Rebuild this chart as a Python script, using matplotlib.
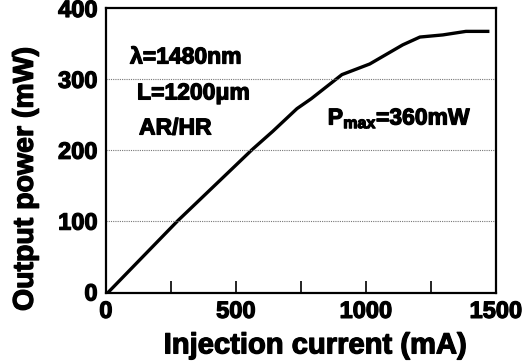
import matplotlib
matplotlib.use('Agg')
import matplotlib.pyplot as plt
import matplotlib.patheffects as pe
from matplotlib.ticker import MultipleLocator

plt.rcParams['font.family'] = ['Liberation Sans', 'DejaVu Sans']
plt.rcParams['font.weight'] = 'bold'
plt.rcParams['mathtext.fontset'] = 'custom'
plt.rcParams['mathtext.bf'] = 'Liberation Sans:bold'
plt.rcParams['mathtext.rm'] = 'Liberation Sans:bold'

# injection current (mA) vs output power (mW)
current = [12, 277, 488, 562, 642, 735, 790, 908, 1015, 1142, 1208, 1296, 1385, 1469]
power = [0, 100, 174, 200, 226, 258, 272, 306, 321, 348, 359, 362, 367, 367]

heavy = [pe.withStroke(linewidth=0.9, foreground='black')]

fig = plt.figure(figsize=(5.32, 3.63), dpi=100)
ax = fig.add_axes([0.199, 0.193, 0.733, 0.785])

ax.plot(current, power, color='black', lw=2.4, solid_joinstyle='round')

ax.set_xlim(0, 1500)
ax.set_ylim(-2, 397)
ax.set_xticks([0, 500, 1000, 1500])
ax.xaxis.set_minor_locator(MultipleLocator(250))
ax.set_yticks([0, 100, 200, 300, 400])
for y in [100, 200, 300]:
    ax.axhline(y, color='#777777', lw=0.8, ls=(0, (1, 1)))

ax.tick_params(axis='x', which='both', direction='in', length=9, width=1.2, top=False,
               labelsize=17, pad=5)
ax.tick_params(axis='y', length=0, labelsize=17, pad=6)
for lab in ax.get_xticklabels() + ax.get_yticklabels():
    lab.set_fontweight('bold')
    lab.set_path_effects(heavy)
for s in ax.spines.values():
    s.set_linewidth(1.6)

ax.set_xlabel('Injection current (mA)', fontsize=21, fontweight='bold', path_effects=heavy)
ax.set_ylabel('Output power (mW)', fontsize=20.5, fontweight='bold', path_effects=heavy)
ax.xaxis.set_label_coords(0.536, -0.135)
ax.yaxis.set_label_coords(-0.172, 0.40)

kw = dict(transform=ax.transAxes, fontsize=16.5, fontweight='bold', va='center', path_effects=heavy)
ax.text(0.062, 0.828, 'λ=1480nm', **kw)
ax.text(0.08, 0.702, 'L=1200μm', **kw)
ax.text(0.085, 0.579, 'AR/HR', **kw)
ax.text(0.569, 0.614, r'$\mathbf{P_{max}}$=360mW', **kw)

fig.savefig('out.png', dpi=100)
